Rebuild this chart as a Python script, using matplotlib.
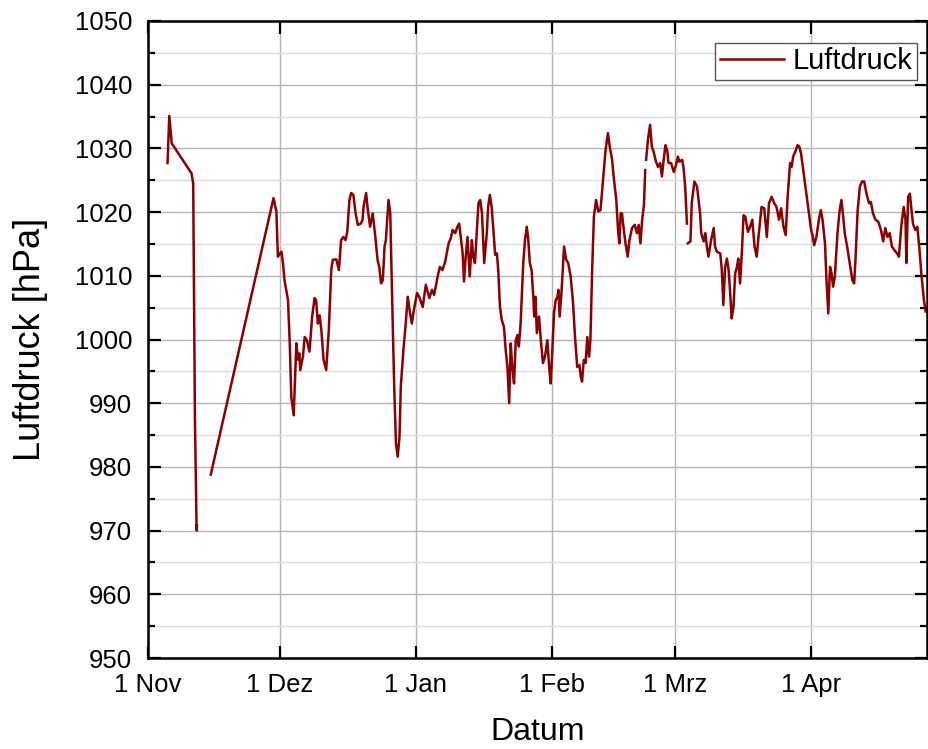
import numpy as np
import pandas as pd
import matplotlib
matplotlib.use('Agg')
import matplotlib.pyplot as plt
import matplotlib.dates as mdates
from matplotlib.ticker import MultipleLocator, FuncFormatter

plt.rcParams['font.family'] = ['Liberation Sans', 'DejaVu Sans']

## Data: days since 1 Nov, pressure in hPa
nan = np.nan
start = pd.Timestamp('2022-11-01')
days = [
    4.45, 4.85, 5.4, 9.9, 10.3, 10.68, 11.06, 11.1, 11.15, nan,
    14.3, 28.6, 29.25, 29.6, 30.4, 30.75, 31.1, 31.9, 32.3, 32.65, 33.2, 33.8, 34.2, 34.5,
    34.7, 35.3, 35.7, 36.2, 36.8, 37.4, 37.95, 38.3, 38.7, 39.1, 39.5, 40.0, 40.6, 41.2,
    41.75, 42.1, 42.9, 43.5, 44.0, 44.5, 45.0, 45.4, 45.9, 46.3, 46.8, 47.3, 47.8, 48.5,
    48.9, 49.1, 49.7, 50.1, 50.6, 51.2, 51.8, 52.3, 52.7, 53.1, 53.5, 53.9, 54.2, 54.8,
    55.2, 55.6, 56.1, 56.5, 56.9, 57.3, 57.6, 58.2, 58.6, 59.2, 59.5, 60.1, 60.7, 61.3,
    61.8, 62.6, 63.3, 64.1, 64.7, 65.2, 66.0, 66.5, 67.1, 67.7, 68.5, 69.0, 69.4, 70.0,
    70.5, 70.9, 71.3, 71.7, 72.0, 72.4, 72.8, 73.3, 73.8, 74.1, 74.5, 74.8, 75.3, 75.7,
    76.1, 76.6, 77.2, 77.5, 77.9, 78.3, 78.7, 79.1, 79.5, 79.8, 80.2, 80.6, 81.1, 81.5,
    81.9, 82.3, 82.65, 83.0, 83.4, 83.8, 84.2, 84.5, 84.9, 85.5, 85.9, 86.3, 86.6, 87.0,
    87.4, 87.8, 88.0, 88.3, 88.6, 89.1, 89.5, 90.0, 90.45, 91.0, 91.4, 91.75, 92.1, 92.5,
    92.9, 93.3, 93.5, 93.8, 94.25, 94.8, 95.3, 95.75, 96.3, 96.8, 97.3, 97.8,
    98.3, 98.6, 98.9, 99.3, 99.7, 100.1, 100.5, 100.8, 101.2, 101.6, 102.1, 102.6, 103.1,
    103.5, 103.9, 104.25, 104.8, 105.2, 105.75, 106.1, 106.7, 107.1, 107.4, 107.7, 108.0,
    108.5, 108.8, 109.3, 109.7, 110.3, 110.9, 111.4, 111.8, 112.2, 112.6, 113.0, 113.3, nan,
    113.5, 113.9, 114.4, 114.8, 115.2, 115.75, 116.2, 116.7, 117.1, 117.5, 117.9, 118.3,
    118.6, 119.2, 119.8, 120.2, 120.75, 121.1, 121.7, 122.0, 122.4, 122.8, nan,
    123.0, 123.6, 123.9, 124.5, 125.1,
    125.8, 126.05, 126.6, 127.0, 127.3, 127.7, 128.3, 128.9, 129.2, 129.6, 130.4, 130.75,
    131.1, 131.5, 131.9, 132.3, 132.65, 133.0, 133.4, 133.8, 134.2, 134.5, 134.9, 135.3,
    135.7, 136.1, 136.7, 137.2, 137.7, 138.2, 138.7, 139.1, 139.5, 139.8, 140.4, 141.0,
    141.5, 142.1, 142.7, 143.2, 143.8, 144.25, 144.8, 145.3, 145.75, 146.3, 146.65, 147.0,
    147.6, 148.0, 148.4, 148.8, 149.3, 149.8, 150.5, 151.1, 151.4, 151.8, 152.3, 152.9,
    153.3, 153.7, 154.25, 154.6, 155.0, 155.4, 155.75, 156.1, 156.5, 157.1, 157.6, 158.0,
    158.4, 158.75, 159.3, 159.9, 160.5, 160.9, 161.2, 161.7, 162.2, 162.7, 163.2, 163.7,
    164.3, 164.7, 165.2, 165.75, 166.4, 167.0, 167.5, 168.0, 168.5, 169.0, 169.5, 170.1,
    170.7, 171.1, 171.7, 172.2, 172.6, 172.8, 173.2, 173.6, 173.9, 174.3, 174.8, 175.3,
    175.8, 176.2, 176.8, 177.2,
]
pressure = [
    1027.7, 1035.1, 1030.8, 1026.1, 1024.5, 988.4, 970.6, 970.0, 970.8, nan,
    978.8, 1022.2, 1020.1, 1013.0, 1013.8, 1012.0, 1009.3, 1006.2, 999.4, 991.0, 988.1, 999.4, 996.8, 997.8,
    995.2, 997.3, 1000.4, 999.9, 998.1, 1003.6, 1006.5, 1006.2, 1002.5, 1003.8, 1001.5, 996.8, 995.2, 1001.5,
    1010.9, 1012.5, 1012.6, 1010.9, 1015.6, 1016.1, 1015.6, 1016.9, 1021.9, 1023.0, 1022.7, 1019.8, 1018.0, 1018.2,
    1018.8, 1020.8, 1023.0, 1020.3, 1017.7, 1019.8, 1016.1, 1012.5, 1011.4, 1008.8, 1009.3, 1014.6, 1015.6, 1021.9,
    1019.8, 1007.3, 992.6, 983.7, 981.6, 984.7, 992.6, 998.4, 1001.5, 1006.7, 1005.1, 1002.5, 1005.1, 1007.3,
    1006.7, 1005.1, 1008.6, 1006.5, 1007.8, 1007.0, 1009.9, 1011.4, 1010.9, 1012.2, 1015.1, 1015.9, 1017.2, 1016.7,
    1017.7, 1018.2, 1015.9, 1013.5, 1009.1, 1013.0, 1016.1, 1009.9, 1015.6, 1013.0, 1012.0, 1015.6, 1021.4, 1021.9,
    1019.8, 1012.0, 1016.7, 1020.8, 1022.7, 1020.8, 1017.2, 1013.3, 1013.5, 1010.9, 1005.1, 1003.1, 1002.0, 998.4,
    995.7, 990.0, 999.4, 995.7, 993.1, 999.9, 1000.7, 998.9, 1002.5, 1012.0, 1015.6, 1017.7, 1016.1, 1012.0,
    1010.9, 1006.7, 1003.6, 1006.7, 1001.0, 1003.6, 999.9, 996.3, 997.3, 999.9, 995.7, 993.1, 997.8, 1004.1,
    1006.2, 1006.7, 1007.8, 1003.6, 1007.8, 1014.6, 1012.5, 1012.0, 1009.9, 1006.2, 1000.4, 995.7,
    996.0, 994.2, 993.4, 996.8, 996.3, 1000.4, 997.3, 999.9, 1010.9, 1019.3, 1021.9, 1020.1, 1020.3,
    1023.5, 1026.9, 1029.7, 1032.4, 1030.3, 1028.2, 1025.6, 1021.9, 1017.2, 1015.1, 1019.8, 1019.8,
    1016.7, 1015.1, 1013.0, 1015.6, 1017.5, 1018.0, 1016.7, 1018.0, 1015.1, 1018.8, 1021.1, 1026.6, nan,
    1028.2, 1031.3, 1033.7, 1030.3, 1029.5, 1027.9, 1027.1, 1027.7, 1025.6, 1028.2, 1030.5, 1029.7,
    1027.7, 1027.7, 1026.3, 1027.1, 1028.7, 1027.9, 1028.2, 1027.1, 1024.0, 1018.2, nan,
    1015.1, 1015.4, 1021.4, 1024.8, 1024.0,
    1019.8, 1016.7, 1015.4, 1016.7, 1014.8, 1013.0, 1015.6, 1017.5, 1014.6, 1013.8, 1013.5, 1010.9,
    1005.4, 1011.4, 1012.7, 1010.9, 1007.3, 1003.3, 1005.1, 1010.4, 1011.4, 1012.7, 1008.8, 1013.5,
    1019.5, 1019.3, 1016.9, 1017.7, 1018.8, 1014.6, 1013.0, 1016.1, 1018.8, 1020.8, 1020.6, 1016.1,
    1021.4, 1022.4, 1021.4, 1020.8, 1018.8, 1020.6, 1017.7, 1016.4, 1022.4, 1027.7, 1027.1, 1028.7,
    1029.7, 1030.5, 1030.3, 1029.2, 1026.6, 1024.0, 1020.3, 1017.2, 1016.4, 1014.8, 1016.1, 1019.0,
    1020.3, 1018.8, 1015.1, 1009.3, 1004.1, 1011.4, 1010.4, 1008.3, 1009.9, 1016.7, 1020.3, 1021.9,
    1019.3, 1016.7, 1014.6, 1012.0, 1009.3, 1008.8, 1012.5, 1020.3, 1024.0, 1024.8, 1024.8, 1022.9,
    1021.4, 1021.6, 1019.8, 1018.8, 1018.5, 1017.2, 1015.4, 1017.5, 1016.1, 1016.7, 1014.6, 1014.0,
    1013.5, 1013.0, 1018.2, 1020.8, 1018.8, 1012.0, 1022.4, 1022.9, 1020.8, 1018.2, 1017.2, 1017.7,
    1014.0, 1010.4, 1006.2, 1004.4,
]
month_names = {11: 'Nov', 12: 'Dez', 1: 'Jan', 2: 'Feb', 3: 'Mrz', 4: 'Apr'}

x0 = mdates.date2num(start)
x = x0 + np.array(days, dtype=float)
y = np.array(pressure, dtype=float)

fig = plt.figure(figsize=(9.29, 7.49), dpi=100)
ax = fig.add_axes([148/929, 1-658/749, (927-148)/929, (658-21)/749])

ax.plot(x, y, color='#8b0000', lw=1.8, label='Luftdruck')

ax.set_xlim(x0, x0 + 177.5)
ax.set_ylim(950, 1050)
ax.xaxis.set_major_locator(mdates.MonthLocator())
ax.xaxis.set_major_formatter(FuncFormatter(
    lambda v, pos: '1 ' + month_names[mdates.num2date(v).month]))
ax.yaxis.set_major_locator(MultipleLocator(10))
ax.yaxis.set_minor_locator(MultipleLocator(5))

ax.grid(which='major', axis='both', color='#b4b4b4', lw=1.0)
ax.grid(which='minor', axis='y', color='#dcdcdc', lw=1.0)
ax.set_axisbelow(True)

for s in ax.spines.values():
    s.set_linewidth(1.8)
ax.tick_params(which='major', direction='in', length=9, width=1.6,
               top=True, right=True, labelsize=18.5)
ax.tick_params(axis='x', which='major', pad=10.5)
ax.tick_params(axis='y', which='major', pad=11.5)
ax.tick_params(which='minor', direction='in', length=5, width=1.6,
               top=False, right=True, left=True, bottom=False)

ax.set_xlabel('Datum', fontsize=23, labelpad=15)
ax.set_ylabel('Luftdruck [hPa]', fontsize=26, labelpad=19)

leg = ax.legend(loc='upper right', bbox_to_anchor=(0.987, 0.9655), fontsize=21,
                fancybox=False, framealpha=1, edgecolor='#555555',
                handlelength=2.2, borderpad=0.15, handletextpad=0.3, borderaxespad=0)
leg.get_frame().set_linewidth(1.0)

fig.savefig('out.png', dpi=100)
